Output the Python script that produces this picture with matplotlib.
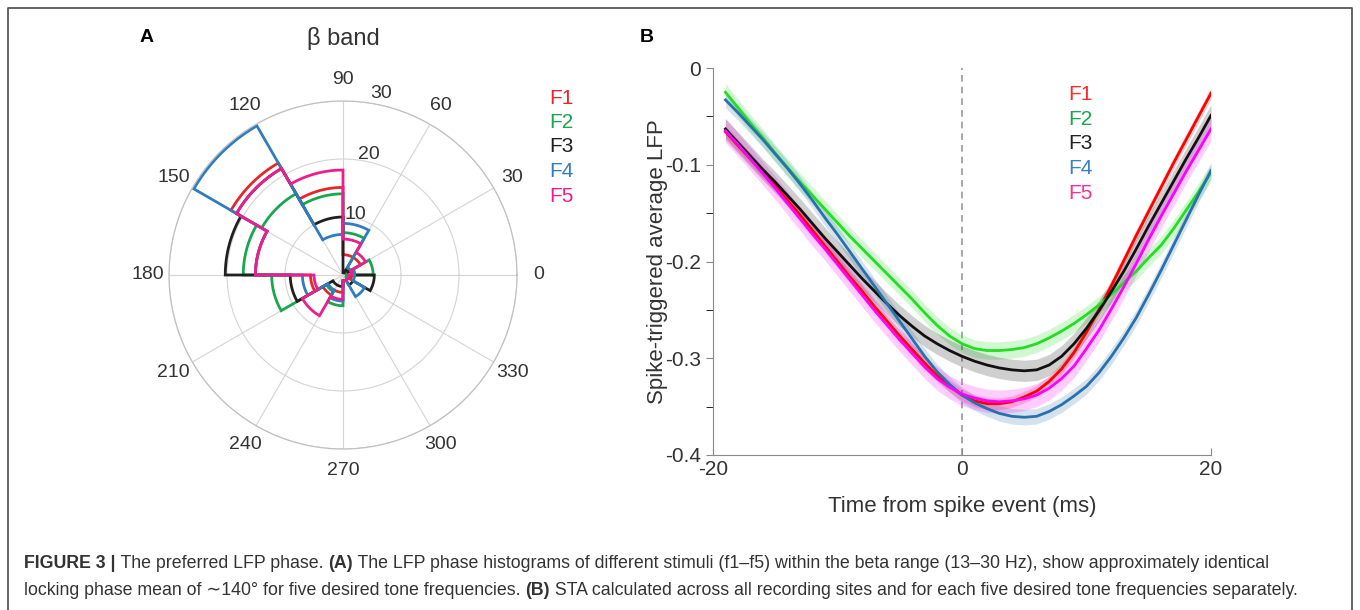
import numpy as np
import matplotlib
matplotlib.use('Agg')
import matplotlib.pyplot as plt
from matplotlib.lines import Line2D

plt.rcParams['font.family'] = ['Liberation Sans', 'DejaVu Sans']

# ---- panel A: phase histograms (30 deg bins, edges 0..360) ----
bin_edges = np.arange(0, 361, 30)
phase_f1 = [2.0, 3.5, 3.5, 15.1, 22.3, 15.1, 5.6, 4.0, 3.0, 1.0, 1.0, 1.5]
phase_f2 = [5.2, 0.6, 7.3, 14.0, 16.2, 17.2, 12.3, 3.3, 5.3, 1.0, 1.0, 0.6]
phase_f3 = [1.5, 1.0, 0.4, 10.0, 21.2, 20.3, 9.1, 2.0, 2.0, 1.0, 2.0, 5.4]
phase_f4 = [2.0, 1.5, 8.9, 7.0, 29.7, 15.1, 7.0, 3.0, 4.5, 1.0, 4.3, 2.0]
phase_f5 = [1.5, 4.5, 6.2, 18.1, 21.2, 15.1, 5.0, 8.1, 4.2, 1.0, 1.0, 1.0]
phase_series = [phase_f1, phase_f2, phase_f3, phase_f4, phase_f5]
colors_a = ['#e8262a', '#1aa54f', '#231f20', '#2f7cc0', '#ec1e8e']
labels = ['F1', 'F2', 'F3', 'F4', 'F5']
r_ticks = [10, 20, 30]

# ---- panel B: spike-triggered average LFP ----
t_ms = np.arange(-19, 21)
sta_f1 = [-0.066, -0.080, -0.094, -0.108, -0.122, -0.137, -0.152, -0.168, -0.184, -0.200,
          -0.216, -0.231, -0.247, -0.262, -0.277, -0.291, -0.305, -0.318, -0.329, -0.338,
          -0.344, -0.347, -0.347, -0.345, -0.340, -0.334, -0.324, -0.311, -0.294, -0.273,
          -0.250, -0.225, -0.199, -0.173, -0.148, -0.123, -0.098, -0.074, -0.050, -0.026]
sta_f2 = [-0.025, -0.041, -0.057, -0.072, -0.088, -0.103, -0.118, -0.132, -0.146, -0.160,
          -0.174, -0.187, -0.200, -0.213, -0.226, -0.239, -0.253, -0.266, -0.277, -0.285,
          -0.290, -0.292, -0.292, -0.291, -0.289, -0.285, -0.279, -0.272, -0.264, -0.255,
          -0.245, -0.234, -0.222, -0.210, -0.196, -0.183, -0.166, -0.147, -0.128, -0.108]
sta_f3 = [-0.063, -0.077, -0.091, -0.105, -0.118, -0.132, -0.146, -0.161, -0.176, -0.190,
          -0.204, -0.218, -0.231, -0.244, -0.256, -0.267, -0.277, -0.285, -0.292, -0.298,
          -0.303, -0.307, -0.310, -0.312, -0.313, -0.312, -0.307, -0.298, -0.285, -0.269,
          -0.251, -0.231, -0.210, -0.187, -0.163, -0.140, -0.117, -0.094, -0.072, -0.049]
sta_f4 = [-0.033, -0.046, -0.060, -0.074, -0.089, -0.104, -0.120, -0.137, -0.155, -0.172,
          -0.190, -0.208, -0.226, -0.244, -0.262, -0.280, -0.298, -0.314, -0.327, -0.338,
          -0.346, -0.352, -0.357, -0.360, -0.361, -0.360, -0.355, -0.348, -0.339, -0.329,
          -0.315, -0.298, -0.279, -0.258, -0.234, -0.209, -0.183, -0.157, -0.131, -0.106]
sta_f5 = [-0.065, -0.079, -0.094, -0.109, -0.124, -0.140, -0.156, -0.172, -0.187, -0.203,
          -0.219, -0.235, -0.251, -0.266, -0.281, -0.295, -0.309, -0.321, -0.330, -0.337,
          -0.341, -0.344, -0.345, -0.344, -0.342, -0.338, -0.331, -0.321, -0.308, -0.290,
          -0.271, -0.249, -0.226, -0.202, -0.177, -0.153, -0.130, -0.107, -0.085, -0.063]
sta_series = [sta_f1, sta_f2, sta_f3, sta_f4, sta_f5]
sta_sem = [0.006, 0.009, 0.011, 0.008, 0.012]
colors_b = ['#ff0000', '#22dd22', '#111111', '#2a6fae', '#ff00ff']
colors_b_text = ['#ff2a2a', '#1aa54f', '#222222', '#3a80c4', '#ff2d95']

W, H = 1360, 610
fig = plt.figure(figsize=(W / 100, H / 100), dpi=100)

def fx(px):
    return px / W

def fy(py):
    return 1 - py / H

# frame around the figure
fig.add_artist(Line2D([fx(8), fx(8), fx(1352), fx(1352)], [0, fy(8), fy(8), 0],
                      transform=fig.transFigure, color='#555555', lw=1.3))

# ---------------- panel A ----------------
cx, cy, rad = 343, 275, 174
axA = fig.add_axes([fx(cx - rad), fy(cy + rad), rad * 2 / W, rad * 2 / H], projection='polar')
for vals, c in zip(phase_series, colors_a):
    th, rr = [], []
    for i in range(len(vals)):
        a = np.linspace(np.radians(bin_edges[i]), np.radians(bin_edges[i + 1]), 25)
        th.extend(a)
        rr.extend([vals[i]] * len(a))
    th.append(th[0])
    rr.append(rr[0])
    axA.plot(th, rr, color=c, lw=2.0, solid_joinstyle='miter')
axA.set_ylim(0, 30)
axA.set_yticks(r_ticks)
axA.set_yticklabels([])
# radial labels centred just outside each ring, near the 80 deg spoke
for v in r_ticks:
    axA.text(np.radians(78), v * 1.065, str(v), fontsize=14, color='#333333',
             ha='center', va='center')
axA.set_xticks(np.radians(np.arange(0, 360, 30)))
axA.set_xticklabels([str(d) for d in range(0, 360, 30)], fontsize=14, color='#333333')
axA.tick_params(axis='x', pad=5)
axA.grid(color='#d4d4d4', lw=0.8)
axA.spines['polar'].set_color('#c0c0c0')
axA.spines['polar'].set_linewidth(0.9)

fig.text(fx(147), fy(38), 'A', fontsize=14, fontweight='bold', ha='center', va='center')
fig.text(fx(343), fy(38), 'β band', fontsize=17, ha='center', va='center', color='#333333')
for i, (lab, c) in enumerate(zip(labels, colors_a)):
    fig.text(fx(549), fy(98 + 24.5 * i), lab, fontsize=15, color=c, ha='left', va='center')

# ---------------- panel B ----------------
axB = fig.add_axes([fx(713), fy(455), 498 / W, 387 / H])
for vals, s, c in zip(sta_series, sta_sem, colors_b):
    v = np.array(vals)
    axB.fill_between(t_ms, v - s, v + s, color=c, alpha=0.2, lw=0)
for vals, c in zip(sta_series, colors_b):
    axB.plot(t_ms, vals, color=c, lw=2.0)
axB.axvline(0, color='#999999', lw=1.2, ls=(0, (4, 3)), zorder=0)
axB.set_xlim(-20, 20)
axB.set_ylim(-0.4, 0)
for sp in ['top', 'right']:
    axB.spines[sp].set_visible(False)
for sp in ['left', 'bottom']:
    axB.spines[sp].set_color('#8a8a8a')
axB.set_xticks([-20, 0, 20])
axB.set_xticklabels(['-20', '0', '20'])
axB.set_yticks([-0.4, -0.3, -0.2, -0.1, 0])
axB.set_yticklabels(['-0.4', '-0.3', '-0.2', '-0.1', '0'])
axB.set_yticks([-0.35, -0.25, -0.15, -0.05], minor=True)
axB.tick_params(axis='both', labelsize=15, labelcolor='#333333', color='#8a8a8a')
axB.tick_params(axis='x', direction='in', length=5)
axB.tick_params(axis='y', which='both', direction='out', length=5)
axB.set_xlabel('Time from spike event (ms)', fontsize=16, color='#333333', labelpad=12)
axB.set_ylabel('Spike-triggered average LFP', fontsize=16, color='#333333', labelpad=-2)

fig.text(fx(647), fy(38), 'B', fontsize=14, fontweight='bold', ha='center', va='center')
for i, (lab, c) in enumerate(zip(labels, colors_b_text)):
    fig.text(fx(1068), fy(95 + 24.5 * i), lab, fontsize=15, color=c, ha='left', va='center')

# ---------------- caption ----------------
renderer = fig.canvas.get_renderer()

def seg_width(s, size, bold):
    w = []
    for txt in ['X' + s + 'X', 'XX']:
        tt = fig.text(0, 0, txt, fontsize=size, fontweight='bold' if bold else 'normal')
        w.append(tt.get_window_extent(renderer=renderer).width)
        tt.remove()
    return (w[0] - w[1]) / W

def draw_runs(x, y, runs, size=12.8):
    for s, bold in runs:
        fig.text(x, y, s, fontsize=size, fontweight='bold' if bold else 'normal',
                 color='#333333', va='baseline', ha='left')
        x += seg_width(s, size, bold)

cap1 = [('FIGURE 3 |', True), (' The preferred LFP phase. ', False), ('(A)', True),
        (' The LFP phase histograms of different stimuli (f1\u2013f5) within the beta range (13\u201330 Hz), show approximately identical', False)]
cap2 = [('locking phase mean of \u223c140\u00b0 for five desired tone frequencies. ', False), ('(B)', True),
        (' STA calculated across all recording sites and for each five desired tone frequencies separately.', False)]
draw_runs(fx(24), fy(568), cap1)
draw_runs(fx(24), fy(595), cap2)

fig.savefig('out.png', dpi=100)
